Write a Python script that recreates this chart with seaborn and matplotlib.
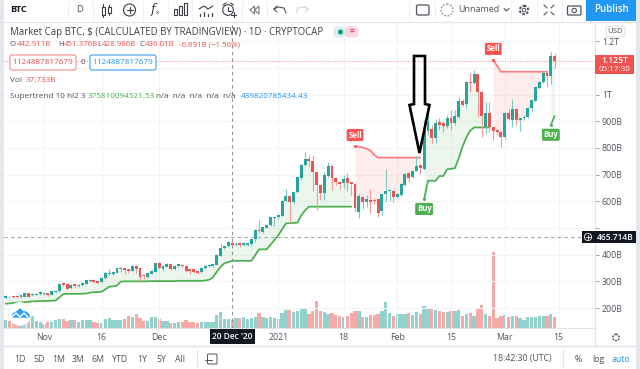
import numpy as np
import pandas as pd
import seaborn as sns
import matplotlib.pyplot as plt
from matplotlib.patches import Circle, FancyBboxPatch, Polygon, Rectangle

# Daily candles 22 Oct 2020 -> 14 Mar 2021, billions of USD
opens = [236,243,245,246,240,241,255,247,249,251,252,256,250,261,262,294,291,274,290,282,286,290,300,305,301,296,311,326,329,332,
         345,349,346,340,358,349,323,316,327,336,370,345,355,364,346,357,362,357,346,345,340,334,349,356,357,361,396,424,431,442.911,
         436,443,436,436,441,457,492,485,501,510,538,542,546,601,620,596,634,686,736,758,753,711,661,633,696,731,688,673,667,
         686,671,664,561,617,598,605,605,608,563,626,638,640,617,623,661,705,692,715,736,
         722,865,870,836,899,895,882,911,892,915,977,965,1049,1045,1076,1011,878,930,878,867,861,842,930,905,945,905,912,915,949,977,1026,1046,1083,1071,1145]
highs = [247,246,247,248,250,257,258,255,256,262,258,258,264,268,294,296,293,290,292,290,296,306,309,308,303,316,334,345,338,351,
         353,350,348,361,361,351,327,333,343,368,372,361,367,366,360,365,364,358,347,347,343,353,360,363,366,402,443,434,451,451.376,
         446,446,447,445,461,497,530,505,513,543,546,553,604,648,622,638,693,739,784,773,773,713,663,711,749,736,691,675,700,
         705,673,666,628,620,623,648,612,610,630,723,648,642,630,668,705,707,716,770,738,
         905,925,886,910,911,900,924,942,942,990,985,1052,1080,1092,1078,1015,974,974,880,870,863,932,948,985,950,913,925,955,982,1030,1052,1087,1086,1160,1155]
lows = [233,238,239,238,237,240,240,245,247,250,250,246,248,258,260,283,266,272,276,280,284,289,298,294,293,295,308,322,324,330,
        336,327,330,338,330,301,309,314,326,335,348,339,353,344,344,355,354,335,327,333,329,332,347,354,355,360,394,421,428,428.986,
        433,428,432,434,432,448,480,482,499,508,506,535,544,596,517,589,632,680,733,730,638,567,605,605,693,642,660,645,650,
        640,623,561,536,573,580,555,590,542,548,598,601,596,613,620,658,673,688,712,701,
        718,850,817,817,867,861,875,868,888,912,958,950,1010,1040,917,840,855,861,830,850,805,835,905,880,885,865,905,912,935,975,1020,1044,1030,1040,1100]
closes = [244,240,241,241,247,255,242,252,253,259,256,250,262,265,291,286,271,288,281,288,294,304,305,296,295,314,331,331,335,349,
          349,341,340,358,346,316,320,331,340,367,350,358,364,346,357,364,356,338,340,336,332,351,358,361,364,400,425,432,446,436.01,
          441,436,443,443,459,494,487,502,511,541,543,550,602,620,596,635,690,737,758,752,711,661,633,697,731,688,671,666,684,
          667,664,574,621,596,608,598,601,558,626,640,642,617,626,665,702,688,713,733,724,
          867,899,836,895,885,882,911,892,920,977,961,1049,1045,1076,1011,920,932,878,865,861,842,930,909,945,905,911,917,951,980,1027,1048,1083,1071,1145,1125]
volumes = [26,23,17,11,15,17,28,40,23,22,15,20,22,28,32,31,23,28,26,19,26,28,28,19,17,17,31,34,28,26,28,31,40,37,47,34,25,24,37,38,31,23,23,17,17,19,22,26,19,19,17,
           19,19,19,21,45,53,31,29,28,35,34,37,32,33,37,51,36,34,37,33,32,51,60,62,53,58,64,67,47,59,92,
           57,53,46,51,45,42,38,42,52,58,58,36,37,44,44,47,59,88,50,40,46,46,46,52,45,53,49,76,
           69,66,61,58,53,53,58,59,60,40,46,50,40,68,79,49,40,260,34,41,43,36,40,41,35,28,36,37,38,42,42,42,49,37]

# Supertrend pieces: first day, values, direction
up_a = [216,217,219,220,221,222,223,225,225,226,226,227,227,228,240,252,253,253,253,253,254,254,258,259,260,261,270,280,281,284,
        299,300,300,300,300,300,300,300,301,301,301,301,301,301,301,302,302,302,302,302,302,302,303,306,315,336,355,368,372,377,
        377,377,377,377,377,398,420,420,420,437,455,472,495,517,518,519,520,548,566,580,580,580,580,580,580,580,580,580,580,580,580]
down_a = [807,805,802,798,790,775,764,764,764,764,764,764,764,764,764,764,764,764]
up_b = [608,677,677,677,695,695,720,722,724,761,805,840,865,877,877,877,877,877]
down_b = [1130,1108,1086,1086,1086,1086,1086,1086,1086,1086,1086,1086,1086,1086,1086]
up_c = [886,920]
st_pieces = [(0, up_a, "up"), (91, down_a, "down"), (109, up_b, "up"), (127, down_b, "down"), (142, up_c, "up")]

price_ticks = [200, 300, 400, 500, 600, 700, 800, 900, 1000, 1100, 1200]
price_labels = ["200B", "300B", "400B", "", "600B", "700B", "800B", "900B", "1T", "", "1.2T"]
time_ticks = [10, 25, 40, 71, 88, 102, 116, 130, 144]
time_labels = ["Nov", "16", "Dec", "2021", "18", "Feb", "15", "Mar", "15"]
ranges = ["1D", "5D", "1M", "3M", "6M", "YTD", "1Y", "5Y", "All"]
range_x = [20, 39, 59, 78, 98, 120, 142, 161, 180]

GREEN, RED = "#26a69a", "#ef5350"
GRID = "#f3f4f8"
TEXT = "#50535e"

sns.set_theme(style="white", rc={"axes.grid": False})
plt.rcParams["font.family"] = ["Open Sans", "DejaVu Sans"]

df = pd.DataFrame({"day": np.arange(len(opens)), "open": opens, "high": highs, "low": lows,
                   "close": closes, "volume": volumes})
df["side"] = np.where(df["close"] >= df["open"], "rise", "fall")
df["hl2"] = (df["high"] + df["low"]) / 2

fig = plt.figure(figsize=(6.4, 3.69), dpi=100, facecolor="white")


def px_box(x0, y0, x1, y1):
    return [x0 / 640, 1 - y1 / 369, (x1 - x0) / 640, (y1 - y0) / 369]


ax = fig.add_axes(px_box(4, 22, 595, 328))
vol_ax = ax.twinx()
vol_ax.set_zorder(1)
ax.set_zorder(2)
ax.patch.set_visible(False)

# volume pane
sns.barplot(data=df, x="day", y="volume", hue="side", palette={"rise": "#92d2cc", "fall": "#f7a9a7"},
            native_scale=True, dodge=False, width=0.86, saturation=1, linewidth=0, legend=False, ax=vol_ax)
vol_ax.set_ylim(0, 1040)
vol_ax.axis("off")

# supertrend fills and lines
rows = []
for n, (start, values, side) in enumerate(st_pieces):
    days = np.arange(start, start + len(values))
    rows.append(pd.DataFrame({"day": days, "value": values, "piece": f"{side}{n}"}))
    ax.fill_between(days, values, df["hl2"].to_numpy()[days], lw=0, zorder=1,
                    color="#4caf50" if side == "up" else "#ff5252", alpha=0.1 if side == "up" else 0.1)
st_df = pd.concat(rows)
st_palette = {f"{side}{n}": "#4caf50" if side == "up" else "#fb7a7f" for n, (_, _, side) in enumerate(st_pieces)}
sns.lineplot(data=st_df, x="day", y="value", hue="piece", palette=st_palette, estimator=None,
             linewidth=1.25, legend=False, ax=ax, zorder=2)

# candles
ax.vlines(df["day"], df["low"], df["high"], colors=df["side"].map({"rise": "#7cc9c2", "fall": "#f59a98"}),
          linewidth=0.8, zorder=3)
ax.bar(df["day"], (df["close"] - df["open"]).abs().clip(lower=2), bottom=df[["open", "close"]].min(axis=1),
       width=0.76, color=df["side"].map({"rise": GREEN, "fall": RED}), linewidth=0, zorder=4)

ax.set_xlim(-0.42, 153.5)
ax.set_ylim(125, 1272.5)
ax.yaxis.tick_right()
ax.set_xticks(time_ticks, time_labels)
ax.set_yticks(price_ticks, price_labels)
ax.grid(True, color=GRID, linewidth=0.8, zorder=0)
ax.set_axisbelow(True)
ax.tick_params(axis="x", length=0, pad=3.6, labelsize=6.3, labelcolor=TEXT)
ax.tick_params(axis="y", length=3, width=0.7, color="#9a9ea8", pad=2, labelsize=6.3, labelcolor=TEXT, right=True)
ax.set_xlabel("")
ax.set_ylabel("")
for side in ["top", "left"]:
    ax.spines[side].set_visible(False)
for side in ["right", "bottom"]:
    ax.spines[side].set_color("#e0e3eb")
    ax.spines[side].set_linewidth(0.8)

# crosshair and last price line
ax.axvline(59, color="#8f939c", lw=0.8, ls=(0, (3, 3)), zorder=5)
ax.axhline(465.714, color="#a5a8b0", lw=0.8, ls=(0, (3, 3)), zorder=5)
ax.axhline(1125, color="#f58f8c", lw=0.7, ls=(0, (1, 1.5)), zorder=2)

# Buy / Sell flags
for day, price, label, col, off in [(91, 807, "Sell", "#ff5252", 8), (109, 608, "Buy", "#4caf50", -7),
                                    (127, 1130, "Sell", "#ff5252", 8), (142, 886, "Buy", "#4caf50", -7)]:
    ax.plot([day], [price], marker="o", ms=2.2, color=col, mew=0, zorder=7)
    ax.annotate(label, (day, price), xytext=(0, off), textcoords="offset points", ha="center", va="center",
                fontsize=5.6, color="white", fontweight="bold", zorder=8,
                bbox=dict(boxstyle="round,pad=0.2,rounding_size=0.2", fc=col, ec="none"))

# overlay in pixel coordinates for the terminal chrome
ui = fig.add_axes([0, 0, 1, 1], zorder=5)
ui.set_xlim(0, 640)
ui.set_ylim(369, 0)
ui.axis("off")
ui.patch.set_visible(False)


def txt(x, y, s, col=TEXT, size=6.5, ha="left", **kw):
    ui.text(x, y, s, color=col, fontsize=size, ha=ha, va="center", **kw)


def box(x0, y0, x1, y1, fc="white", ec="none", lw=0.8, r=1.5):
    ui.add_patch(FancyBboxPatch((x0 + r, y0 + r), x1 - x0 - 2 * r, y1 - y0 - 2 * r,
                                boxstyle=f"round,pad={r},rounding_size={r}", fc=fc, ec=ec, lw=lw))


def line(xs, ys, col="#3a3d45", lw=0.8, **kw):
    ui.plot(xs, ys, color=col, lw=lw, solid_capstyle="round", **kw)


# frame strips
ui.add_patch(Rectangle((0, 0), 4, 369, fc="#e4e6ee", ec="none"))
ui.add_patch(Rectangle((636, 0), 4, 369, fc="#e4e6ee", ec="none"))
ui.add_patch(Rectangle((4, 0), 632, 21, fc="white", ec="none"))
ui.add_patch(Rectangle((4, 346), 632, 23, fc="white", ec="none"))
line([0, 640], [21.5, 21.5], "#e0e3eb", 0.8)
line([4, 636], [346, 346], "#e0e3eb", 1.0)

# top toolbar
txt(10, 10, "BTC", "#131722", 6.6, fontweight="bold")
txt(80, 10, "D", "#50535e", 6.8, ha="center")
for x in [68, 93, 143, 168, 192, 217, 242, 267, 409, 435, 511, 537, 562]:
    line([x, x], [0, 21], "#eef0f4", 0.7)
# candles icon
line([103, 103], [4, 17]); line([109, 109], [5, 15])
ui.add_patch(Rectangle((101.5, 6.5), 3, 8, fc="white", ec="#3a3d45", lw=0.8, zorder=3))
ui.add_patch(Rectangle((107.5, 7), 3, 6, fc="white", ec="#3a3d45", lw=0.8, zorder=3))
# add indicator
ui.add_patch(Circle((129.5, 10), 6, fc="none", ec="#3a3d45", lw=0.8))
line([126.5, 132.5], [10, 10]); line([129.5, 129.5], [7, 13])
txt(153, 10, "f", "#3a3d45", 9, ha="center", style="italic", family="DejaVu Serif")
txt(158, 13, "x", "#3a3d45", 4.5, ha="center")
# templates and compare icons
for x, h in [(175, 6), (180, 9), (185, 12)]:
    ui.add_patch(Rectangle((x - 1.5, 15 - h), 3, h, fc="white", ec="#3a3d45", lw=0.8))
line([199, 204, 208, 213], [9, 6, 9, 6], "#3a3d45", 0.8)
for x, y in [(200, 14), (204, 12), (208, 14), (212, 13)]:
    line([x, x], [y, 15.5], "#3a3d45", 0.9)
# alarm
ui.add_patch(Circle((228, 10), 5.3, fc="none", ec="#3a3d45", lw=0.8))
line([228, 228, 230.5], [7, 10.5, 10.5]); line([231, 236], [14.5, 14.5]); line([233.5, 233.5], [12, 17])
line([223, 226], [5, 3]); line([230.5, 233.5], [3, 5])
# replay
ui.add_patch(Polygon([[250, 10], [254.5, 6], [254.5, 14]], fc="none", ec="#72757d", lw=0.8))
ui.add_patch(Polygon([[254.5, 10], [259, 6], [259, 14]], fc="none", ec="#72757d", lw=0.8))
# undo, redo
line([274, 278, 284, 286], [9, 7, 8, 13], "#50535e"); line([274, 277], [9, 12], "#50535e"); line([274, 277], [9, 6], "#50535e")
line([296, 298, 304, 308], [13, 8, 7, 9], "#d6d8de"); line([308, 305], [9, 6], "#d6d8de"); line([308, 305], [9, 12], "#d6d8de")
# right side icons
box(416.5, 5, 429, 15, ec="#50535e", lw=0.9, r=1.5)
ui.add_patch(Circle((447, 10), 6, fc="none", ec="#72757d", lw=0.8, ls=(0, (1.5, 1.5))))
txt(458, 10, "Unnamed", TEXT, 6.5)
line([504, 506.5, 509], [8.5, 11, 8.5], "#50535e")
ui.add_patch(Circle((524, 10), 4.2, fc="none", ec="#50535e", lw=1.5, ls=(0, (1.2, 0.8))))
ui.add_patch(Circle((524, 10), 1.8, fc="none", ec="#50535e", lw=0.7))
for dx, dy in [(-1, -1), (1, -1), (-1, 1), (1, 1)]:
    line([549 + dx * 2, 549 + dx * 5], [10 + dy * 2, 10 + dy * 5], "#50535e")
box(567.5, 6, 581, 15, ec="#50535e", lw=0.9, r=1)
ui.add_patch(Circle((574.2, 10.5), 2.2, fc="white", ec="#50535e", lw=0.8))
ui.add_patch(Rectangle((586, 0), 50, 21, fc="#2196f3", ec="none"))
txt(611, 10, "Publish", "white", 7, ha="center", fontweight="semibold")

# legend block
txt(10, 33, "Market Cap BTC, $ (CALCULATED BY TRADINGVIEW) · 1D · CRYPTOCAP", "#3d4049", 6.9)
box(333.5, 26.5, 345, 37.5, fc="#dcf1ee", r=4)
box(345, 26.5, 358.5, 37.5, fc="#fbd5df", r=4)
ui.add_patch(Circle((340.5, 32), 2.5, fc="#089981", ec="none"))
txt(352, 32, "=", "#e0457b", 6, ha="center", fontweight="bold")
for x, s, c in [(10, "O", TEXT), (16.5, "442.911B", RED), (58, "H", TEXT), (64, "451.376B", RED), (97, "L", TEXT),
                (101.5, "428.986B", RED), (139.5, "C", TEXT), (145, "436.01B", RED), (179, "-6.891B (−1.56%)", RED)]:
    txt(x, 45, s, c, 5.7)
box(10, 55, 76, 70, ec="#f79a97", lw=0.9, r=2)
txt(43, 62.5, "1124887817679", "#e54e4b", 5.9, ha="center")
txt(83, 62.5, "0", TEXT, 5.9, ha="center")
box(90, 55, 156, 70, ec="#53a9ef", lw=0.9, r=2)
txt(123, 62.5, "1124887817679", "#2196f3", 5.9, ha="center")
txt(10, 81, "Vol", TEXT, 5.9)
txt(26, 81, "37.733B", RED, 5.9)
txt(10, 96, "Supertrend 10 hl2 3", TEXT, 5.9)
txt(88, 96, "375810094521.53", "#4caf50", 5.9)
txt(156, 96, "n/a  n/a  n/a  n/a  n/a", TEXT, 5.9)
txt(241, 96, "439820785434.43", "#2196f3", 5.9)

# price scale tags
box(606, 26, 625, 37, ec="#e0e3eb", lw=0.8, r=2)
txt(615.5, 31.5, "USD", TEXT, 5.6, ha="center")
ui.add_patch(Rectangle((595, 55), 39, 19, fc=RED, ec="none"))
txt(614.5, 60.5, "1.125T", "white", 6.2, ha="center", fontweight="semibold")
txt(614.5, 69.5, "05:17:30", "white", 5.8, ha="center")
ui.add_patch(Rectangle((582, 231), 13, 12, fc="#131722", ec="none"))
ui.add_patch(Circle((588, 237), 3.6, fc="none", ec="white", lw=0.6))
line([586, 590], [237, 237], "white", 0.6); line([588, 588], [235, 239], "white", 0.6)
ui.add_patch(Rectangle((595, 231), 41, 12, fc="#131722", ec="none"))
txt(615.5, 237, "465.714B", "white", 6, ha="center", fontweight="semibold")
# date tag
ui.add_patch(Rectangle((210, 329), 45, 15, fc="#131722", ec="none"))
txt(232.5, 336.5, "20 Dec '20", "white", 6, ha="center", fontweight="semibold")
# settings on time axis
line([595, 595], [328, 346], "#e0e3eb", 0.8)
ui.add_patch(Circle((616, 337.5), 3.2, fc="none", ec="#50535e", lw=1.1, ls=(0, (1.2, 0.8))))

# bottom toolbar
for x, s in zip(range_x, ranges):
    txt(x, 359, s, TEXT, 6.3, ha="center")
line([197, 197], [350, 366], "#e0e3eb", 0.8)
box(207.5, 354, 217, 364, ec="#50535e", lw=0.7, r=1)
line([205, 212], [360, 360], "#50535e", 0.7)
txt(522, 359, "18:42:30 (UTC)", TEXT, 6.3, ha="center")
line([563, 563], [350, 366], "#e0e3eb", 0.8)
txt(578, 359, "%", TEXT, 6.3, ha="center")
txt(598, 359, "log", TEXT, 6.3, ha="center")
txt(621, 359, "auto", "#2196f3", 6.3, ha="center")

# logo
ui.add_patch(Circle((20, 314), 11.5, fc="white", ec="#eef0f4", lw=0.6))
ui.add_patch(Polygon([[13, 317], [13, 314], [18, 311], [20, 309], [23, 312], [26, 312], [29, 315], [29, 317]],
                     fc="#2c9df0", ec="#2c9df0", lw=1, joinstyle="round"))
line([12, 16, 20, 24, 28], [317, 313, 317, 313, 317], "white", 1.0)

# hand drawn arrow
ui.add_patch(Polygon([[414, 56], [425, 56], [425, 104], [429.5, 105], [419.5, 153], [409.5, 105], [414, 104]],
                     fc="none", ec="black", lw=1.9, joinstyle="miter", zorder=8))

fig.savefig("out.png", dpi=100)
